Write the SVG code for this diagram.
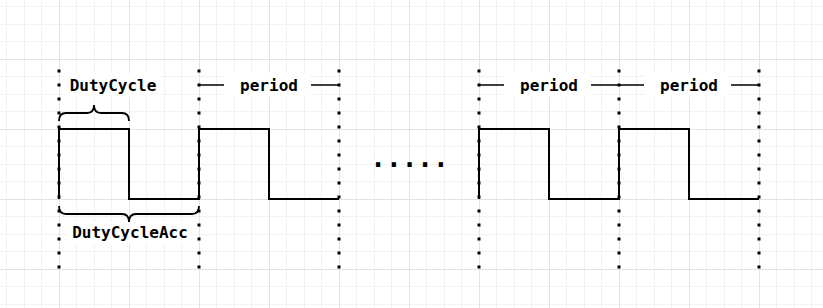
<svg xmlns="http://www.w3.org/2000/svg" width="823" height="308" viewBox="0 0 823 308">
<defs>
<pattern id="grid" patternUnits="userSpaceOnUse" x="59" y="59" width="70" height="70">
<path d="M17.5,0V70M35.5,0V70M52.5,0V70M0,17.5H70M0,35.5H70M0,52.5H70" stroke="#f2f2f2" stroke-width="1" fill="none"/>
<path d="M0.5,0V70M0,0.5H70" stroke="#e3e3e3" stroke-width="1" fill="none"/>
</pattern>
</defs>
<style>
.dots{stroke:#000;stroke-width:3;stroke-dasharray:3 11;fill:none}
.wave{stroke:#000;stroke-width:2;fill:none;stroke-linejoin:miter}
.brace{stroke:#000;stroke-width:1.8;fill:none}
.dim{stroke:#000;stroke-width:1.5;fill:none}
.lbl{font-family:"DejaVu Sans Mono","Liberation Mono",monospace;font-size:16px;font-weight:bold;fill:#000;text-anchor:middle}
.bg{fill:#fff}
</style>
<rect width="823" height="308" fill="#fff"/>
<rect width="823" height="308" fill="url(#grid)"/>
<g id="guides">
<path class="dots" d="M59,69.5V269M199,69.5V269M339,69.5V269M479,69.5V269M619,69.5V269M759,69.5V269"/>
</g>
<g id="connectors">
<path class="dim" d="M199,85H224M311,85H339"/>
<path class="dim" d="M479,85H504M591,85H619"/>
<path class="dim" d="M619,85H644M731,85H759"/>
</g>
<g id="wave1">
<path class="wave" d="M59,199V129H129V199H199V129H269V199H339"/>
</g>
<g id="wave2">
<path class="wave" d="M479,199V129H549V199H619V129H689V199H759"/>
</g>
<g id="dutycycle">
<rect class="bg" x="64" y="73" width="97" height="24"/>
<text class="lbl" x="113" y="91">DutyCycle</text>
<path class="brace" d="M59,121Q59,113 66,113L87,113Q94,113 94,105Q94,113 101,113L122,113Q129,113 129,121"/>
</g>
<g id="dutycycleacc">
<rect class="bg" x="68" y="222" width="124" height="22"/>
<text class="lbl" x="130" y="238">DutyCycleAcc</text>
<path class="brace" d="M59,206Q59,214 66,214L122,214Q129,214 129,222Q129,214 136,214L192,214Q199,214 199,206"/>
</g>
<g id="period1">
<rect class="bg" x="225" y="73" width="85" height="24"/>
<text class="lbl" x="269" y="91">period</text>
</g>
<g id="period2">
<rect class="bg" x="505" y="73" width="85" height="24"/>
<text class="lbl" x="549" y="91">period</text>
</g>
<g id="period3">
<rect class="bg" x="645" y="73" width="85" height="24"/>
<text class="lbl" x="689" y="91">period</text>
</g>
<g id="ellipsis">
<text class="lbl" x="409.5" y="167" style="font-size:26px">.....</text>
</g>
</svg>
